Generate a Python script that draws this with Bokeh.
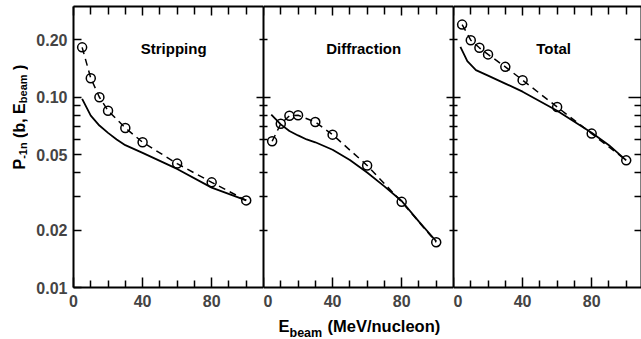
import math
from bokeh.plotting import figure
from bokeh.layouts import row, column
from bokeh.models import (Range1d, LogAxis, LinearAxis, FixedTicker, PrintfTickFormatter,
                          Label, CustomJSTickFormatter)
from bokeh.embed import file_html
from bokeh.resources import INLINE

# ---------------- data ----------------
energy_pts = [5, 10, 15, 20, 30, 40, 60, 80, 100]
strip_pts = [0.183, 0.126, 0.100, 0.085, 0.069, 0.058, 0.0448, 0.0357, 0.0287]
diff_pts = [0.0587, 0.0725, 0.0799, 0.0804, 0.0741, 0.0636, 0.0438, 0.0282, 0.0173]
total_pts = [0.241, 0.1995, 0.182, 0.168, 0.1445, 0.123, 0.0889, 0.0644, 0.0466]

strip_line_x = [5, 10, 15, 20, 25, 30, 40, 60, 80, 100]
strip_line_y = [0.098, 0.080, 0.071, 0.065, 0.060, 0.056, 0.051, 0.042, 0.0335, 0.0287]
diff_line_x = [4.5, 10, 15, 20, 25, 30, 40, 50, 60, 70, 80, 90, 100]
diff_line_y = [0.081, 0.072, 0.0665, 0.063, 0.060, 0.058, 0.053, 0.0468, 0.0402, 0.034, 0.0285, 0.0222, 0.0175]
total_line_x = [4, 8, 13, 20, 30, 40, 60, 80, 90, 100]
total_line_y = [0.184, 0.155, 0.139, 0.130, 0.118, 0.107, 0.085, 0.065, 0.056, 0.0466]

panel_titles = ["Stripping", "Diffraction", "Total"]

y_major = [0.01, 0.02, 0.05, 0.1, 0.2]
y_minor = [0.03, 0.04, 0.06, 0.07, 0.08, 0.09]
y_div_major = [0.1]
y_div_minor = [0.02, 0.03, 0.04, 0.05, 0.06, 0.07, 0.08, 0.09, 0.2]
x_major = [0, 40, 80]
x_minor = [10, 20, 30, 50, 60, 70, 90, 100]

FONT = "Liberation Sans"
Y_MIN, Y_MAX = 0.01, 0.3
X_MAX = 110.0
FRAME_W = 190
ROW_H = 315
YLAB_W = 28
XLAB_H = 24


def hide_labels(ax):
    ax.formatter = CustomJSTickFormatter(code="return ''")
    ax.major_label_text_font_size = "1px"
    ax.major_label_standoff = 0


def style_axis(ax, major_in, minor_in, line_width=2):
    ax.major_tick_in = major_in
    ax.major_tick_out = 0
    ax.minor_tick_in = minor_in
    ax.minor_tick_out = 0
    ax.major_tick_line_width = 1.5
    ax.minor_tick_line_width = 1.5
    ax.major_tick_line_color = "black"
    ax.minor_tick_line_color = "black"
    ax.axis_line_width = line_width
    ax.axis_line_color = "black"


def make_panel(width, left_border, first=False, last=False):
    frame_w = width - left_border
    xmax = X_MAX * frame_w / FRAME_W
    p = figure(width=width, height=ROW_H, x_range=Range1d(0, xmax),
               y_range=Range1d(Y_MIN, Y_MAX), y_axis_type="log",
               x_axis_location=None, y_axis_location=None,
               output_backend="svg", toolbar_location=None,
               min_border_left=left_border, min_border_right=0,
               min_border_top=6, min_border_bottom=28)
    p.grid.visible = False
    p.outline_line_color = None

    xb = LinearAxis(ticker=FixedTicker(ticks=x_major, minor_ticks=x_minor))
    style_axis(xb, 10, 7)
    xb.major_label_text_font = FONT
    xb.major_label_text_font_style = "bold"
    xb.major_label_text_font_size = "16px"
    xb.major_label_standoff = 7
    p.add_layout(xb, "below")

    xt = LinearAxis(ticker=FixedTicker(ticks=x_major, minor_ticks=x_minor))
    style_axis(xt, 9, 8)
    hide_labels(xt)
    p.add_layout(xt, "above")

    if first:
        yl = LogAxis(ticker=FixedTicker(ticks=y_major, minor_ticks=y_minor))
        style_axis(yl, 8, 7)
        yl.formatter = PrintfTickFormatter(format="%.2f")
        yl.major_label_text_font = FONT
        yl.major_label_text_font_style = "bold"
        yl.major_label_text_font_size = "16px"
        yl.major_label_standoff = 6
    else:
        yl = LogAxis(ticker=FixedTicker(ticks=y_div_major, minor_ticks=y_div_minor))
        style_axis(yl, 7, 4, line_width=2)
        hide_labels(yl)
    p.add_layout(yl, "left")

    yr = LogAxis(ticker=FixedTicker(ticks=y_div_major, minor_ticks=y_div_minor))
    if last:
        style_axis(yr, 13, 7)
    else:
        style_axis(yr, 7, 4)
    hide_labels(yr)
    p.add_layout(yr, "right")
    return p


def blank_fig(w, h):
    f = figure(width=w, height=h, x_range=Range1d(0, w), y_range=Range1d(0, h),
               x_axis_location=None, y_axis_location=None,
               output_backend="svg", toolbar_location=None, min_border=0)
    f.grid.visible = False
    f.outline_line_color = None
    return f


p1 = make_panel(263 - YLAB_W, 73 - YLAB_W, first=True)
p2 = make_panel(190, 0)
p3 = make_panel(188, 0, last=True)

series = [
    (p1, strip_line_x, strip_line_y, strip_pts),
    (p2, diff_line_x, diff_line_y, diff_pts),
    (p3, total_line_x, total_line_y, total_pts),
]
for (p, lx, ly, pts), title in zip(series, panel_titles):
    p.scatter(energy_pts, pts, size=9, marker="circle", fill_color="white",
              line_color="black", line_width=1.5)
    p.line(lx, ly, line_color="black", line_width=1.8)
    p.line(energy_pts, pts, line_color="black", line_width=1.5, line_dash="7 5")
    p.add_layout(Label(x=58, y=0.181, text=title, text_align="center",
                       text_baseline="alphabetic", text_font=FONT,
                       text_font_style="bold", text_font_size="15px",
                       text_color="black"))

# y-axis label: P_{-1n} (b, E_beam), rotated
ylab = blank_fig(YLAB_W, ROW_H)
ang = math.pi / 2
ylab_pieces = [
    ("P", 118, 19, "16px"),
    ("-1n", 128.7, 22, "11px"),
    ("(b, E", 149.6, 19, "16px"),
    ("beam", 184.3, 22, "11px"),
    (")", 217.4, 19, "16px"),
]
for txt, sy, sx, fs in ylab_pieces:
    ylab.add_layout(Label(x=sx, y=sy, x_units="screen", y_units="screen", text=txt,
                          angle=ang, text_align="left", text_baseline="alphabetic",
                          text_font=FONT, text_font_style="bold", text_font_size=fs,
                          text_color="black"))

# x-axis label: E_beam (MeV/nucleon)
xlab = blank_fig(641, XLAB_H)
xlab_pieces = [
    ("E", 278, 14, "16.5px"),
    ("beam", 289, 6.5, "12.5px"),
    ("(MeV/nucleon)", 327, 14, "16.5px"),
]
for txt, sx, sy, fs in xlab_pieces:
    xlab.add_layout(Label(x=sx, y=sy, x_units="screen", y_units="screen", text=txt,
                          text_align="left", text_baseline="alphabetic",
                          text_font=FONT, text_font_style="bold", text_font_size=fs,
                          text_color="black"))

layout = column(row(ylab, p1, p2, p3), xlab)
open("out.html", "w").write(file_html(layout, INLINE))
